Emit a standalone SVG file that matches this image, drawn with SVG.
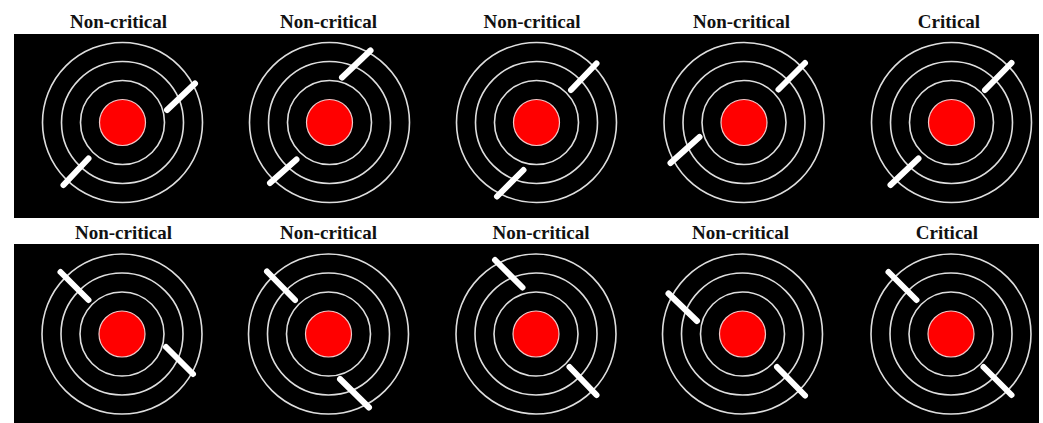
<svg xmlns="http://www.w3.org/2000/svg" width="1043" height="423" viewBox="0 0 1043 423">
<style>
.lbl{font-family:"Liberation Serif","Times New Roman",serif;font-weight:bold;font-size:19px;fill:#111;text-anchor:middle}
.ring{fill:none;stroke:#dedede;stroke-width:1.6}
.core{fill:#ff0000;stroke:#f2c8c8;stroke-width:1.2}
.stick{stroke:#ffffff;stroke-width:6;stroke-linecap:round}
</style>
<rect width="1043" height="423" fill="#ffffff"/>
<rect x="14" y="34" width="1025" height="184" fill="#000000"/>
<rect x="14" y="244" width="1025" height="179" fill="#000000"/>
<defs>
<g id="target">
<circle class="ring" r="42"/>
<circle class="ring" r="61"/>
<circle class="ring" r="80"/>
<circle class="core" r="23"/>
</g>
</defs>
<g id="p1"><text class="lbl" x="118.5" y="28">Non-critical</text><use href="#target" x="122.5" y="122.5"/>
<line class="stick" x1="167" y1="110" x2="195" y2="83.5"/><line class="stick" x1="88.5" y1="158.5" x2="63.5" y2="185"/></g>
<g id="p2"><text class="lbl" x="328.5" y="28">Non-critical</text><use href="#target" x="329.5" y="122.5"/>
<line class="stick" x1="342" y1="77.5" x2="370.5" y2="50.5"/><line class="stick" x1="296.5" y1="159.5" x2="270" y2="183"/></g>
<g id="p3"><text class="lbl" x="532" y="28">Non-critical</text><use href="#target" x="536.5" y="122.5"/>
<line class="stick" x1="571" y1="90" x2="596.5" y2="63.5"/><line class="stick" x1="523.5" y1="170" x2="497" y2="196.5"/></g>
<g id="p4"><text class="lbl" x="741.5" y="28">Non-critical</text><use href="#target" x="744" y="122.5"/>
<line class="stick" x1="778.5" y1="89.5" x2="805" y2="63"/><line class="stick" x1="699.5" y1="137" x2="670.5" y2="163"/></g>
<g id="p5"><text class="lbl" x="949" y="28">Critical</text><use href="#target" x="951.5" y="122.5"/>
<line class="stick" x1="985" y1="90" x2="1011.5" y2="63"/><line class="stick" x1="918.5" y1="158.5" x2="890.5" y2="185"/></g>
<g id="p6"><text class="lbl" x="123.5" y="239">Non-critical</text><use href="#target" x="122" y="334"/>
<line class="stick" x1="60.5" y1="272" x2="88.5" y2="300"/><line class="stick" x1="166" y1="347" x2="193" y2="374"/></g>
<g id="p7"><text class="lbl" x="328.5" y="239">Non-critical</text><use href="#target" x="328.5" y="334"/>
<line class="stick" x1="267" y1="271.5" x2="295" y2="300"/><line class="stick" x1="340" y1="379" x2="369" y2="407.5"/></g>
<g id="p8"><text class="lbl" x="541" y="239">Non-critical</text><use href="#target" x="536" y="334"/>
<line class="stick" x1="495" y1="260" x2="522.5" y2="287.5"/><line class="stick" x1="569.5" y1="367" x2="596.5" y2="395"/></g>
<g id="p9"><text class="lbl" x="740.5" y="239">Non-critical</text><use href="#target" x="742.5" y="334"/>
<line class="stick" x1="668.5" y1="293.5" x2="697" y2="321"/><line class="stick" x1="777" y1="367" x2="805" y2="395.5"/></g>
<g id="p10"><text class="lbl" x="947" y="239">Critical</text><use href="#target" x="951" y="334"/>
<line class="stick" x1="888.5" y1="272" x2="916.5" y2="300"/><line class="stick" x1="983.5" y1="367" x2="1011.5" y2="395"/></g>
</svg>
